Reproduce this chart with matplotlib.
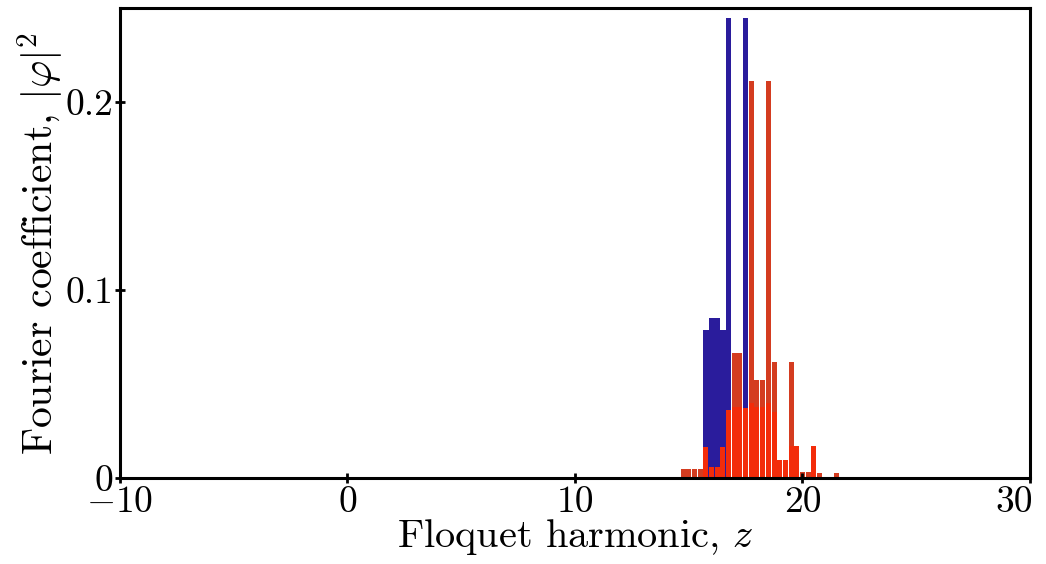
import numpy as np
import matplotlib
matplotlib.use("Agg")
from matplotlib import pyplot as plt
from matplotlib.transforms import ScaledTranslation

plt.rcParams['font.family'] = 'serif'
plt.rcParams['font.serif'] = ['cmr10']
plt.rcParams['mathtext.fontset'] = 'cm'
plt.rcParams['axes.formatter.use_mathtext'] = True

# harmonics on a quarter-step grid
blue_z = [15.75, 16.0, 16.25, 16.5, 16.75, 17.5]
blue_p = [0.079, 0.085, 0.085, 0.079, 0.245, 0.245]

red_z = [14.75, 15.0, 15.25, 15.5, 15.75, 16.0, 16.25, 16.5, 16.75, 17.0,
         17.25, 17.5, 17.75, 18.0, 18.25, 18.5, 18.75, 19.0, 19.25, 19.5,
         19.75, 20.0, 20.25, 20.5, 20.75, 21.5]
red_p = [0.0046, 0.005, 0.005, 0.0046, 0.0167, 0.006, 0.006, 0.0167, 0.036, 0.0665,
         0.0665, 0.037, 0.211, 0.052, 0.052, 0.211, 0.0615, 0.0096, 0.0096, 0.0615,
         0.017, 0.0034, 0.0034, 0.017, 0.0025, 0.0025]

# brighter overlay series
bright_z = [15.75, 16.0, 16.25, 16.5, 16.75, 17.0, 17.25, 17.5, 17.75, 18.0,
            18.25, 18.5, 18.75, 19.0, 19.25, 19.5, 19.75, 20.5]
bright_p = [0.0167, 0.006, 0.006, 0.0167, 0.036, 0.038, 0.038, 0.037, 0.04, 0.038,
            0.038, 0.04, 0.035, 0.0096, 0.0096, 0.017, 0.017, 0.017]

fig = plt.figure(figsize=(10.46, 5.64), dpi=100)
ax = fig.add_axes([0.1147, 0.1525, 0.870, 0.833])

ax.bar(blue_z, blue_p, width=0.25, color='#2a1c9c', linewidth=0)
ax.bar(red_z, red_p, width=0.22, color='#d43c20', linewidth=0)
ax.bar(bright_z, bright_p, width=0.22, color='#f32c0a', linewidth=0)

ax.set_xlim(-10, 30)
ax.set_ylim(0, 0.25)
ax.set_xticks([-10, 0, 10, 20, 30])
ax.set_xticklabels(['$-10$', '0', '10', '20', '30'])
ax.set_yticks([0, 0.1, 0.2])
ax.set_yticklabels(['0', '0.1', '0.2'])

for s in ax.spines.values():
    s.set_linewidth(2.2)
ax.tick_params(direction='inout', length=7, width=2, labelsize=27, pad=2)
ax.tick_params(axis='y', pad=1)

# last x label sits inside the figure edge
last = ax.get_xticklabels()[-1]
last.set_transform(last.get_transform() + ScaledTranslation(-0.16, 0, fig.dpi_scale_trans))

ax.set_xlabel(r'Floquet harmonic, $z$', fontsize=29, labelpad=-1)
ax.set_ylabel(r'Fourier coefficient, $|\varphi|^2$', fontsize=30, labelpad=0)

fig.savefig('out.png', dpi=100)
